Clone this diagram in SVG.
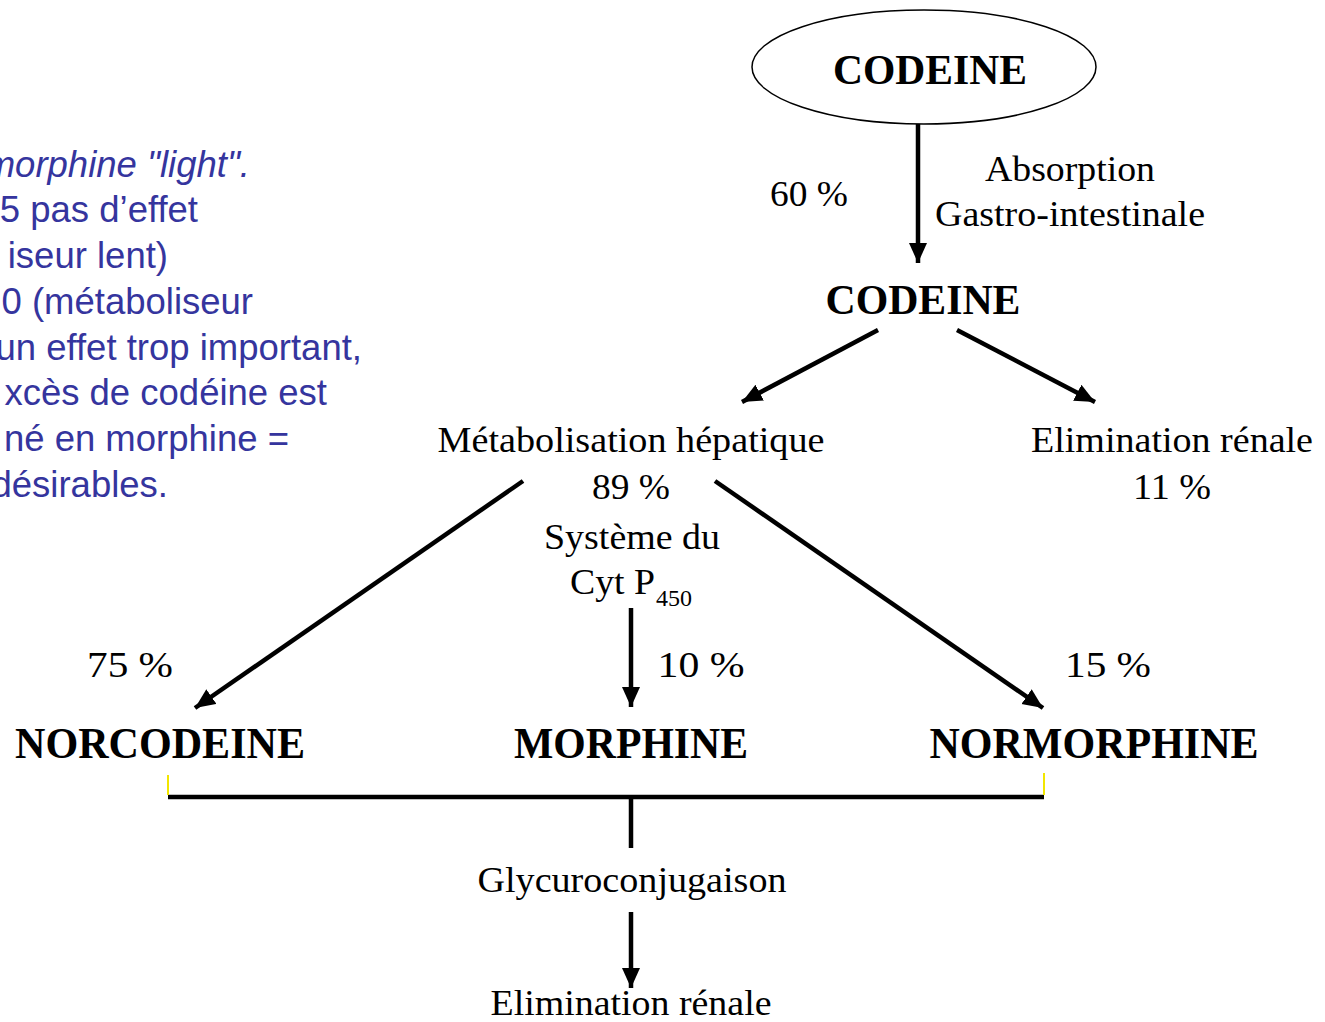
<svg xmlns="http://www.w3.org/2000/svg" width="1325" height="1022" viewBox="0 0 1325 1022">
<defs>
<style>
.t{font-family:"Liberation Serif","Times New Roman",serif;fill:#000;font-size:36px;text-anchor:middle}
.b{font-weight:bold;font-size:42px}
.n{font-family:"Liberation Serif","Times New Roman",serif;font-weight:bold;font-size:45px;text-anchor:middle}
.blue{font-family:"Liberation Sans",Arial,sans-serif;font-size:36.5px;fill:#35359E;text-anchor:end}
.c{stroke:#000;stroke-width:4.5;fill:none}
</style>
<marker id="ah" markerUnits="userSpaceOnUse" markerWidth="22" markerHeight="20" refX="20" refY="9" orient="auto">
<path d="M0,0 L20,9 L0,18 z" fill="#000"/>
</marker>
</defs>
<rect width="1325" height="1022" fill="#fff"/>

<g id="note">
<text class="blue" x="250" y="177" font-style="italic">morphine "light".</text>
<text class="blue" x="198" y="222">5 pas d’effet</text>
<text class="blue" x="168" y="268">iseur lent)</text>
<text class="blue" x="253" y="314">0 (métaboliseur</text>
<text class="blue" x="362" y="360">un effet trop important,</text>
<text class="blue" x="327" y="405">xcès de codéine est</text>
<text class="blue" x="289" y="451">né en morphine =</text>
<text class="blue" x="168" y="497">désirables.</text>
</g>

<g id="codeine-top">
<ellipse cx="924" cy="67" rx="172" ry="57" fill="#fff" stroke="#000" stroke-width="1.5"/>
<text class="t b" x="930" y="84" textLength="194" lengthAdjust="spacingAndGlyphs">CODEINE</text>
</g>

<g id="absorption-labels">
<text class="t" x="809" y="206" textLength="78" lengthAdjust="spacingAndGlyphs">60 %</text>
<text class="t" x="1070" y="181" textLength="170" lengthAdjust="spacingAndGlyphs">Absorption</text>
<text class="t" x="1070" y="226" textLength="270" lengthAdjust="spacingAndGlyphs">Gastro-intestinale</text>
</g>

<g id="codeine">
<text class="t b" x="923" y="314" textLength="195" lengthAdjust="spacingAndGlyphs">CODEINE</text>
</g>

<g id="metabolisation">
<text class="t" x="631" y="452" textLength="387" lengthAdjust="spacingAndGlyphs">Métabolisation hépatique</text>
<text class="t" x="631" y="499" textLength="78" lengthAdjust="spacingAndGlyphs">89 %</text>
<text class="t" x="632" y="549" textLength="176" lengthAdjust="spacingAndGlyphs">Système du</text>
<text class="t" x="570" y="594" text-anchor="start" style="text-anchor:start" textLength="85" lengthAdjust="spacingAndGlyphs">Cyt P</text>
<text class="t" x="656" y="606" style="text-anchor:start;font-size:23px" textLength="36" lengthAdjust="spacingAndGlyphs">450</text>
</g>

<g id="elimination-renale-1">
<text class="t" x="1172" y="452" textLength="282" lengthAdjust="spacingAndGlyphs">Elimination rénale</text>
<text class="t" x="1172" y="499" textLength="78" lengthAdjust="spacingAndGlyphs">11 %</text>
</g>

<g id="percentages">
<text class="t" x="130" y="677" textLength="86" lengthAdjust="spacingAndGlyphs">75 %</text>
<text class="t" x="701" y="677" textLength="87" lengthAdjust="spacingAndGlyphs">10 %</text>
<text class="t" x="1108" y="677" textLength="86" lengthAdjust="spacingAndGlyphs">15 %</text>
</g>

<g id="norcodeine">
<text class="n" x="160" y="758" textLength="290" lengthAdjust="spacingAndGlyphs">NORCODEINE</text>
</g>
<g id="morphine">
<text class="n" x="631" y="758" textLength="234" lengthAdjust="spacingAndGlyphs">MORPHINE</text>
</g>
<g id="normorphine">
<text class="n" x="1094" y="758" textLength="329" lengthAdjust="spacingAndGlyphs">NORMORPHINE</text>
</g>

<g id="glycuroconjugaison">
<text class="t" x="632" y="892" textLength="309" lengthAdjust="spacingAndGlyphs">Glycuroconjugaison</text>
</g>
<g id="elimination-renale-2">
<text class="t" x="631" y="1015" textLength="281" lengthAdjust="spacingAndGlyphs">Elimination rénale</text>
</g>

<g id="connectors">
<line class="c" x1="918" y1="124" x2="918" y2="263" marker-end="url(#ah)"/>
<line class="c" x1="878" y1="330" x2="742" y2="402" marker-end="url(#ah)"/>
<line class="c" x1="957" y1="330" x2="1095" y2="402" marker-end="url(#ah)"/>
<line class="c" x1="523" y1="481" x2="195" y2="708" marker-end="url(#ah)"/>
<line class="c" x1="715" y1="481" x2="1043" y2="708" marker-end="url(#ah)"/>
<line class="c" x1="631" y1="608" x2="631" y2="707" stroke-width="3.5" marker-end="url(#ah)"/>
<line class="c" x1="168" y1="797" x2="1044" y2="797"/>
<line x1="168" y1="775" x2="168" y2="795" stroke="#f2e600" stroke-width="2"/>
<line x1="1044" y1="773" x2="1044" y2="795" stroke="#f2e600" stroke-width="2"/>
<line class="c" x1="631" y1="797" x2="631" y2="848"/>
<line class="c" x1="631" y1="912" x2="631" y2="988" marker-end="url(#ah)"/>
</g>
</svg>
